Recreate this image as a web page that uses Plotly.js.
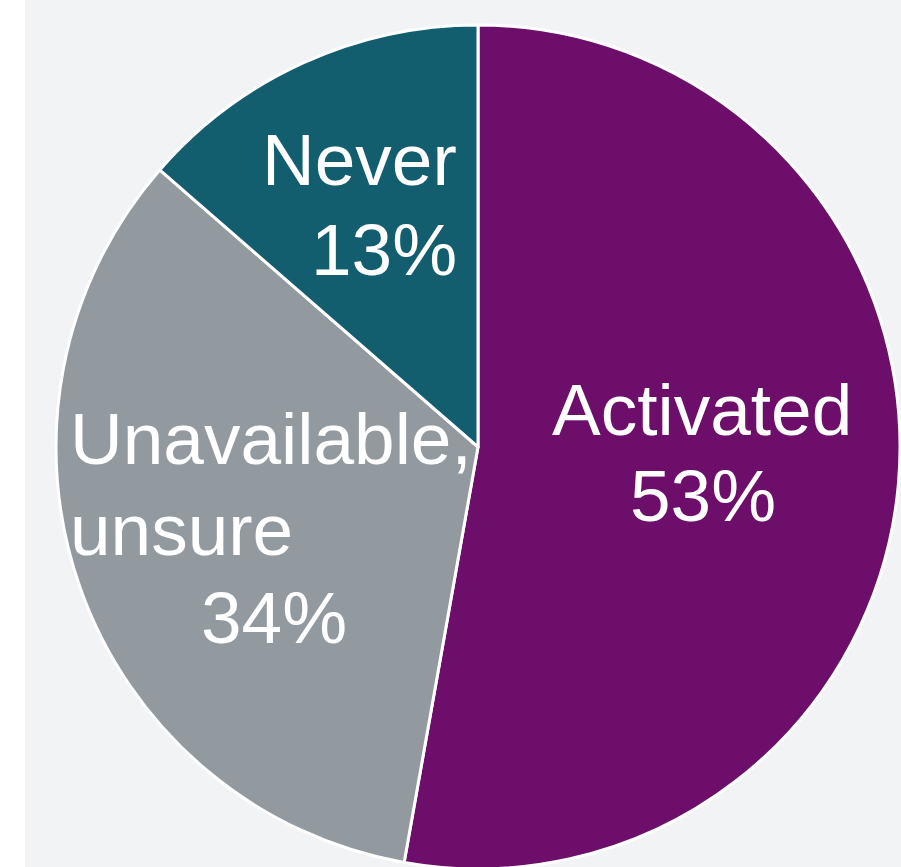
<!DOCTYPE html>
<html>
<head>
<meta charset="utf-8">
<script src="https://cdn.plot.ly/plotly-3.0.1.min.js"></script>
<style>
  html, body { margin: 0; padding: 0; background: #ffffff; overflow: hidden; }
  #plot { position: absolute; left: 25px; top: 0; width: 876px; height: 870px; }
</style>
</head>
<body>
<div id="plot"></div>
<script>
// Data
const categories = ["Activated", "Unavailable, unsure", "Never"];
const values = [52.8, 33.6, 13.6];
const percentLabels = ["53%", "34%", "13%"];
const sliceColors = ["#6d0e6a", "#92999f", "#125e6e"];

// Label lines (text split as drawn)
const labelLines = [
  ["Activated", percentLabels[0]],
  ["Unavailable,", "unsure", percentLabels[1]],
  ["Never", percentLabels[2]]
];
// approximate label-line centres in page pixels [x, y]
const labelPos = [
  [[701.5, 409], [702.5, 495]],
  [[271, 438.5], [181.5, 529], [273.5, 617.5]],
  [[359, 159], [383.5, 250]]
];

const W = 876, H = 870, OFFX = 25;
const annotations = [];
labelLines.forEach((lines, i) => {
  lines.forEach((t, j) => {
    const p = labelPos[i][j];
    annotations.push({
      text: t, xref: "paper", yref: "paper",
      x: (p[0] - OFFX) / W, y: 1 - p[1] / H,
      xanchor: "center", yanchor: "middle",
      showarrow: false,
      font: { family: "Liberation Sans, Arial, sans-serif", size: 73, color: "#ffffff" }
    });
  });
});

const trace = {
  type: "pie",
  labels: categories,
  values: values,
  sort: false,
  direction: "clockwise",
  rotation: 0,
  textinfo: "none",
  hoverinfo: "label+percent",
  marker: { colors: sliceColors, line: { color: "#ffffff", width: 3 } },
  domain: { x: [31 / W, 875 / W], y: [1 / H, 845 / H] },
  showlegend: false
};

const layout = {
  width: W, height: H,
  margin: { l: 0, r: 0, t: 0, b: 0 },
  paper_bgcolor: "#f2f3f5",
  showlegend: false,
  annotations: annotations
};

Plotly.newPlot("plot", [trace], layout, { displayModeBar: false, staticPlot: true });
</script>
</body>
</html>
